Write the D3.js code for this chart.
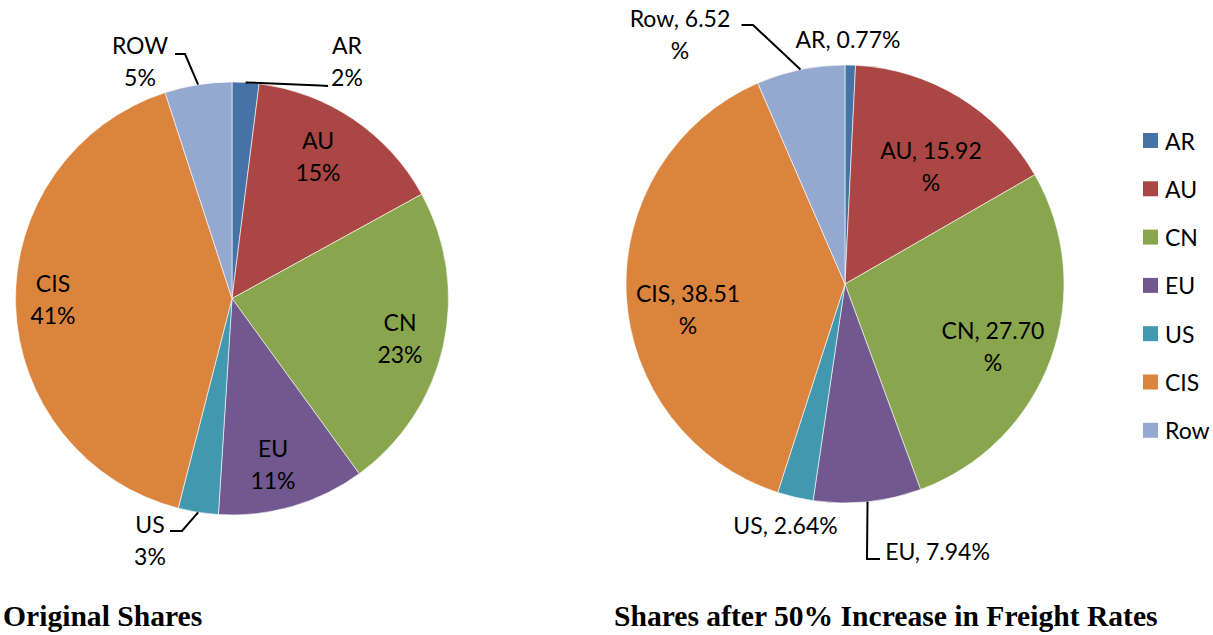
<!DOCTYPE html>
<html>
<head>
<meta charset="utf-8">
<script src="https://cdn.jsdelivr.net/npm/d3@7/dist/d3.min.js"></script>
<style>
  html, body { margin: 0; padding: 0; background: #fff; }
  svg { display: block; }
</style>
</head>
<body>
<svg id="chart" width="1213" height="635"></svg>
<script>
// Market shares by origin
const legendNames   = ["AR", "AU", "CN", "EU", "US", "CIS", "Row"];
const originalNames = ["AR", "AU", "CN", "EU", "US", "CIS", "ROW"];
const originalShares = [2, 15, 23, 11, 3, 41, 5];
const freightNames  = ["AR", "AU", "CN", "EU", "US", "CIS", "Row"];
const freightShares = [0.77, 15.92, 27.70, 7.94, 2.64, 38.51, 6.52];
const titles = ["Original Shares", "Shares after 50% Increase in Freight Rates"];

const colors = ["#4572A7", "#AA4643", "#89A54E", "#71588F", "#4198AF", "#DB843D", "#93A9CF"];

// Label placement (offsets from the pie centre) and leader-line bends
const originalLabelLayout = [
  { dx: 115,  dy: -237.5, lines: 2, leader: [[88, -213], [96, -212.5]] },
  { dx: 86,   dy: -142.5, lines: 2 },
  { dx: 168,  dy: 39.5,   lines: 2 },
  { dx: 41,   dy: 165.5,  lines: 2 },
  { dx: -82,  dy: 241.5,  lines: 2, leader: [[-50, 232.5], [-62, 232.5]] },
  { dx: -179, dy: 0.5,    lines: 2 },
  { dx: -92,  dy: -237.5, lines: 2, leader: [[-47, -244.5], [-57, -244.5]] }
];
const freightLabelLayout = [
  { dx: 3,     dy: -245,  lines: 1 },
  { dx: 86,    dy: -118.5, lines: 2 },
  { dx: 148,   dy: 62,    lines: 2 },
  { dx: 92.5,  dy: 267,   lines: 1, leader: [[22, 275], [35, 275]] },
  { dx: -59.5, dy: 241,   lines: 1 },
  { dx: -157,  dy: 25,    lines: 2 },
  { dx: -165,  dy: -250,  lines: 2, leader: [[-92, -259], [-103.5, -259]] }
];

const labelFont = "Lato, 'Noto Sans', sans-serif";
const labelSize = 23;
const lineGap = 32;

const svg = d3.select("#chart");
const color = d3.scaleOrdinal().domain(legendNames).range(colors);

function drawPie(cx, cy, radius, names, values, layout, fmt) {
  const pie = d3.pie().sort(null).value(d => d)(values);
  const arc = d3.arc().innerRadius(0).outerRadius(radius);
  const g = svg.append("g").attr("transform", `translate(${cx},${cy})`);

  g.selectAll("path.slice")
    .data(pie)
    .join("path")
    .attr("class", "slice")
    .attr("d", arc)
    .attr("fill", (d, i) => color(legendNames[i]))
    .attr("stroke", "#ffffff")
    .attr("stroke-width", 0.6);

  // leader lines from the slice edge to the label
  pie.forEach((d, i) => {
    const lay = layout[i];
    if (!lay.leader) return;
    const mid = (d.startAngle + d.endAngle) / 2;
    const start = [radius * Math.sin(mid), -radius * Math.cos(mid)];
    g.append("path")
      .attr("d", d3.line()([start, ...lay.leader]))
      .attr("fill", "none")
      .attr("stroke", "#000")
      .attr("stroke-width", 2);
  });

  pie.forEach((d, i) => {
    const lay = layout[i];
    const textLines = fmt(names[i], values[i], lay.lines);
    const t = g.append("text")
      .attr("text-anchor", "middle")
      .attr("font-family", labelFont)
      .attr("font-size", labelSize)
      .attr("fill", "#000");
    textLines.forEach((s, k) => {
      t.append("tspan")
        .attr("x", lay.dx)
        .attr("y", lay.dy + (k - (textLines.length - 1) / 2) * lineGap)
        .attr("dominant-baseline", "central")
        .text(s);
    });
  });
}

drawPie(232, 298.5, 216.5, originalNames, originalShares, originalLabelLayout,
  (n, v) => [n, d3.format(".0f")(v) + "%"]);

drawPie(845, 284, 219, freightNames, freightShares, freightLabelLayout,
  (n, v, lines) => {
    const s = n + ", " + d3.format(".2f")(v);
    return lines === 2 ? [s, "%"] : [s + "%"];
  });

// Legend
const legend = svg.append("g").attr("transform", "translate(1143,140.5)");
const rows = legend.selectAll("g")
  .data(legendNames)
  .join("g")
  .attr("transform", (d, i) => `translate(0,${i * 48.3})`);
rows.append("rect")
  .attr("x", 0).attr("y", -7.5)
  .attr("width", 15).attr("height", 15)
  .attr("fill", d => color(d));
rows.append("text")
  .attr("x", 22).attr("y", 0)
  .attr("dominant-baseline", "central")
  .attr("font-family", labelFont)
  .attr("font-size", labelSize)
  .attr("fill", "#000")
  .text(d => d);

// Titles under each pie
svg.selectAll("text.title")
  .data(titles)
  .join("text")
  .attr("class", "title")
  .attr("x", (d, i) => i === 0 ? 3 : 614)
  .attr("y", 626)
  .attr("font-family", "'Liberation Serif', 'Times New Roman', serif")
  .attr("font-weight", "bold")
  .attr("font-size", 29.6)
  .attr("fill", "#000")
  .text(d => d);
</script>
</body>
</html>
